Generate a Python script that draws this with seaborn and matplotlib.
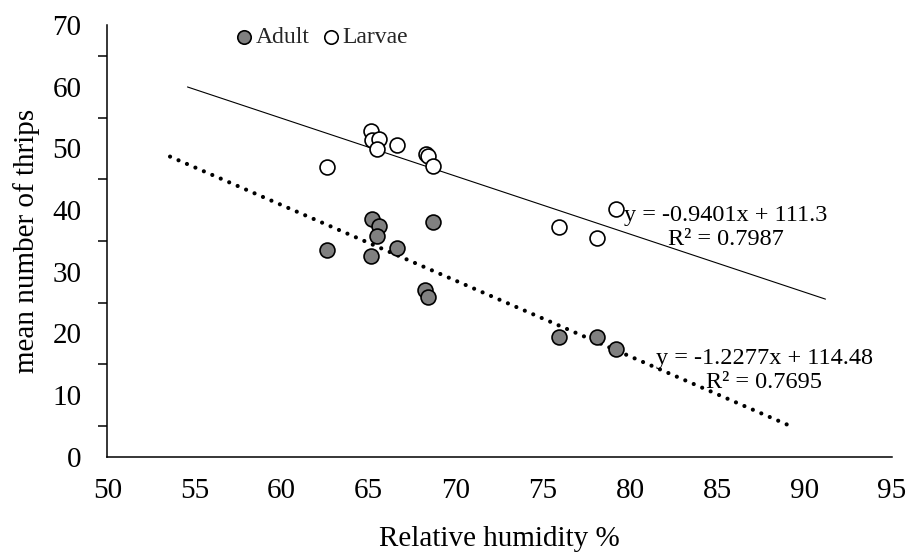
import numpy as np
import pandas as pd
import matplotlib
matplotlib.use("Agg")
import matplotlib.pyplot as plt
import seaborn as sns

# ---- data ----
adult_rh = [65.2, 65.6, 65.5, 62.6, 65.1, 66.6, 68.7, 68.2, 68.4, 75.9, 78.1, 79.2]
adult_n = [38.6, 37.4, 35.8, 33.5, 32.6, 33.8, 38.1, 27.1, 25.9, 19.4, 19.5, 17.4]
larvae_rh = [65.1, 65.2, 65.6, 65.5, 66.6, 68.3, 68.4, 68.7, 62.6, 75.9, 78.1, 79.2]
larvae_n = [52.9, 51.4, 51.6, 49.9, 50.6, 49.1, 48.7, 47.2, 47.0, 37.3, 35.5, 40.1]
series_names = ["Adult", "Larvae"]
adult_fit = (-1.2277, 114.48)
larvae_fit = (-0.9401, 111.3)
adult_eq = ["y = -1.2277x + 114.48", "R\u00b2 = 0.7695"]
larvae_eq = ["y = -0.9401x + 111.3", "R\u00b2 = 0.7987"]
adult_trend_range = (53.6, 89.0)
larvae_trend_range = (54.6, 91.2)
x_ticks = list(range(50, 96, 5))
y_ticks = list(range(0, 71, 10))

df = pd.concat([
    pd.DataFrame({"rh": adult_rh, "n": adult_n, "stage": series_names[0]}),
    pd.DataFrame({"rh": larvae_rh, "n": larvae_n, "stage": series_names[1]}),
])

sns.set_theme(style="white")
plt.rcParams["font.family"] = ["Liberation Serif", "DejaVu Serif"]

fig = plt.figure(figsize=(9.10, 5.57), dpi=100)
ax = fig.add_axes([0.1179, 0.1800, 0.8620, 0.7749])

# trend lines
xa = np.linspace(*adult_trend_range, 50)
ax.plot(xa, adult_fit[0] * xa + adult_fit[1], color="black", lw=3.0,
        linestyle=(0, (0.01, 2.2)), dash_capstyle="round", zorder=2)
xl = np.linspace(*larvae_trend_range, 50)
ax.plot(xl, larvae_fit[0] * xl + larvae_fit[1], color="black", lw=0.8, zorder=2)

sns.scatterplot(data=df[df.stage == "Adult"], x="rh", y="n", ax=ax, s=115,
                color="#808080", edgecolor="black", linewidth=1.2,
                label="Adult", zorder=3)
sns.scatterplot(data=df[df.stage == "Larvae"], x="rh", y="n", ax=ax, s=115,
                facecolor="white", edgecolor="black", linewidth=1.2,
                label="Larvae", zorder=3)

ax.set_xlim(50, 95)
ax.set_ylim(0, 70)
ax.set_xticks(x_ticks)
ax.set_yticks(y_ticks)
ax.set_yticks(np.arange(5, 70, 10), minor=True)
ax.set_xticklabels([str(v) for v in x_ticks])
ax.set_yticklabels([str(v) for v in y_ticks])

for s in ["top", "right"]:
    ax.spines[s].set_visible(False)
for s in ["left", "bottom"]:
    ax.spines[s].set_color("black")
    ax.spines[s].set_linewidth(1.1)

ax.tick_params(axis="both", which="both", direction="out", color="black",
               width=1.1, length=6.5, labelsize=21, labelcolor="black")
ax.tick_params(axis="x", pad=9)
ax.tick_params(axis="y", pad=12)
ax.tick_params(axis="y", which="minor", left=True, length=6.5, width=1.1)
ax.tick_params(axis="x", which="minor", bottom=False)

ax.set_xlabel("Relative humidity %", fontsize=21, color="black", labelpad=16)
ax.set_ylabel("mean number of thrips", fontsize=21, color="black", labelpad=9)

ax.text(85.5, 37.2, "\n".join(larvae_eq), ha="center", va="center",
        fontsize=17.5, color="black", linespacing=1.2)
ax.text(87.7, 14.0, "\n".join(adult_eq), ha="center", va="center",
        fontsize=17.5, color="black", linespacing=1.2)

leg = ax.legend(loc="center left", bbox_to_anchor=(0.159, 0.972), ncol=2,
                frameon=False, fontsize=17, handletextpad=0.0,
                handlelength=1.0, columnspacing=0.4, markerscale=0.9,
                borderaxespad=0, borderpad=0)

fig.savefig("out.png", dpi=100)
